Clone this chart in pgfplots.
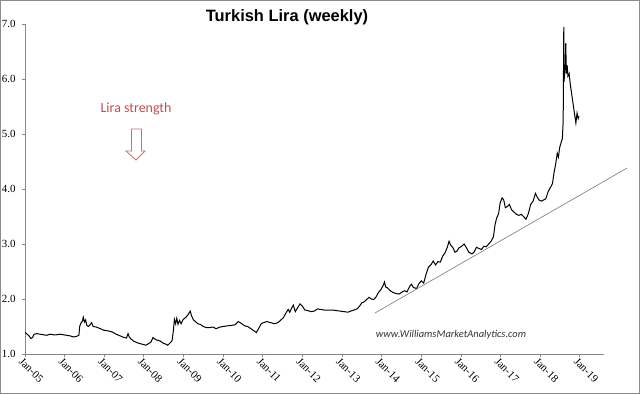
\documentclass[border=0pt]{standalone}
\usepackage{fontspec}
\setmainfont{Liberation Serif}
\newfontfamily\titlefont{Liberation Sans}
\newfontfamily\calfont{Carlito}
\usepackage{pgfplots}
\pgfplotsset{compat=1.18}
\definecolor{liratext}{RGB}{192,80,77}
\definecolor{liraarrow}{RGB}{210,110,110}
\definecolor{axgray}{RGB}{134,134,134}
\definecolor{framegray}{RGB}{140,140,140}
\begin{document}
\begin{tikzpicture}
\useasboundingbox (-25bp,-40bp) rectangle (615bp,354bp);
\begin{axis}[
  scale only axis,
  width=579bp, height=330bp,
  xmin=2005, xmax=2019.61,
  ymin=1, ymax=7,
  clip=false,
  axis lines=left,
  axis line style={-, draw=axgray, line width=0.8bp},
  tick style={draw=axgray, line width=0.8bp},
  tick align=outside,
  major tick length=3bp,
  xtick={2005,2006,2007,2008,2009,2010,2011,2012,2013,2014,2015,2016,2017,2018,2019},
  xticklabels={Jan-05,Jan-06,Jan-07,Jan-08,Jan-09,Jan-10,Jan-11,Jan-12,Jan-13,Jan-14,Jan-15,Jan-16,Jan-17,Jan-18,Jan-19},
  ytick={1,2,3,4,5,6,7},
  yticklabel style={/pgf/number format/fixed, /pgf/number format/fixed zerofill, /pgf/number format/precision=1, font=\fontsize{11}{13}\selectfont, xshift=-3bp},
  /pgf/number format/assume math mode=true,
  xticklabel style={rotate=-45, anchor=north west, inner sep=1pt, font=\fontsize{11}{13}\selectfont, xshift=-2bp},
]
\addplot[black, line width=1bp] coordinates {
(2005.00,1.39)(2005.04,1.37)(2005.10,1.33)(2005.15,1.28)(2005.19,1.30)(2005.23,1.36)(2005.30,1.37)(2005.38,1.36)(2005.46,1.35)(2005.55,1.34)(2005.63,1.36)(2005.72,1.35)(2005.80,1.35)(2005.88,1.36)(2005.97,1.35)
(2006.05,1.34)(2006.14,1.33)(2006.22,1.31)(2006.30,1.32)(2006.36,1.34)(2006.38,1.50)(2006.41,1.56)(2006.45,1.60)(2006.47,1.67)(2006.50,1.58)(2006.53,1.62)(2006.56,1.52)(2006.60,1.50)(2006.64,1.53)(2006.68,1.57)(2006.72,1.50)(2006.80,1.49)(2006.90,1.46)
(2007.00,1.43)(2007.10,1.42)(2007.20,1.40)(2007.30,1.36)(2007.40,1.33)(2007.50,1.30)(2007.56,1.29)(2007.60,1.37)(2007.63,1.31)(2007.68,1.27)(2007.75,1.23)(2007.85,1.20)(2007.95,1.18)
(2008.05,1.16)(2008.12,1.19)(2008.18,1.22)(2008.23,1.30)(2008.28,1.27)(2008.34,1.25)(2008.40,1.24)(2008.48,1.20)(2008.55,1.18)(2008.60,1.16)(2008.66,1.20)(2008.71,1.24)(2008.74,1.40)(2008.77,1.63)(2008.80,1.55)(2008.83,1.65)(2008.86,1.54)(2008.90,1.61)(2008.94,1.55)(2008.99,1.63)
(2009.05,1.66)(2009.12,1.72)(2009.17,1.78)(2009.20,1.70)(2009.25,1.62)(2009.30,1.59)(2009.36,1.55)(2009.42,1.54)(2009.50,1.50)(2009.58,1.48)(2009.66,1.48)(2009.74,1.49)(2009.82,1.46)(2009.92,1.49)
(2010.00,1.50)(2010.09,1.51)(2010.20,1.52)(2010.30,1.53)(2010.38,1.59)(2010.45,1.56)(2010.55,1.51)(2010.62,1.50)(2010.70,1.46)(2010.78,1.42)(2010.84,1.39)(2010.90,1.47)(2010.96,1.55)
(2011.02,1.57)(2011.10,1.59)(2011.20,1.57)(2011.30,1.55)(2011.38,1.57)(2011.46,1.62)(2011.52,1.66)(2011.58,1.74)(2011.64,1.81)(2011.68,1.76)(2011.72,1.82)(2011.77,1.89)(2011.82,1.77)(2011.86,1.82)(2011.94,1.91)
(2012.00,1.87)(2012.06,1.80)(2012.13,1.79)(2012.22,1.77)(2012.30,1.78)(2012.38,1.82)(2012.46,1.81)(2012.55,1.80)(2012.65,1.80)(2012.75,1.80)(2012.85,1.79)(2012.95,1.78)
(2013.05,1.77)(2013.15,1.76)(2013.22,1.78)(2013.30,1.80)(2013.38,1.82)(2013.44,1.87)(2013.50,1.93)(2013.56,1.95)(2013.62,1.99)(2013.68,2.03)(2013.74,2.00)(2013.80,1.99)(2013.86,2.04)(2013.92,2.12)(2013.98,2.17)
(2014.04,2.25)(2014.07,2.31)(2014.10,2.22)(2014.15,2.20)(2014.20,2.16)(2014.28,2.12)(2014.36,2.10)(2014.44,2.09)(2014.52,2.13)(2014.58,2.15)(2014.64,2.13)(2014.70,2.22)(2014.75,2.27)(2014.80,2.21)(2014.88,2.19)(2014.94,2.28)
(2015.00,2.33)(2015.06,2.29)(2015.12,2.45)(2015.18,2.58)(2015.24,2.62)(2015.30,2.69)(2015.36,2.62)(2015.42,2.68)(2015.48,2.67)(2015.54,2.78)(2015.60,2.84)(2015.66,2.95)(2015.70,3.05)(2015.74,2.98)(2015.80,2.93)(2015.85,2.85)(2015.90,2.87)(2015.95,2.93)
(2016.02,2.96)(2016.08,3.00)(2016.14,2.93)(2016.20,2.85)(2016.28,2.82)(2016.33,2.85)(2016.39,2.94)(2016.45,2.92)(2016.52,2.90)(2016.58,2.96)(2016.64,2.95)(2016.70,3.00)(2016.76,3.05)(2016.82,3.13)(2016.86,3.35)(2016.90,3.47)(2016.95,3.55)(2016.99,3.75)
(2017.04,3.84)(2017.08,3.80)(2017.12,3.66)(2017.17,3.68)(2017.22,3.72)(2017.28,3.62)(2017.34,3.58)(2017.40,3.54)(2017.46,3.52)(2017.52,3.54)(2017.58,3.50)(2017.64,3.45)(2017.70,3.55)(2017.76,3.72)(2017.82,3.78)(2017.88,3.92)(2017.92,3.86)(2017.97,3.80)
(2018.03,3.78)(2018.08,3.80)(2018.14,3.82)(2018.20,3.95)(2018.26,4.03)(2018.31,4.10)(2018.35,4.30)(2018.39,4.45)(2018.43,4.65)(2018.46,4.58)(2018.49,4.75)(2018.53,4.85)(2018.56,4.92)(2018.58,5.25)
(2018.595,6.95)(2018.600,5.95)(2018.63,6.20)(2018.645,6.65)(2018.66,6.10)(2018.68,6.25)(2018.70,6.05)(2018.73,6.10)(2018.76,5.90)(2018.80,5.70)(2018.84,5.50)(2018.88,5.30)(2018.90,5.20)(2018.93,5.38)(2018.96,5.28)(2018.98,5.32)
};
\addplot[axgray, line width=0.7bp] coordinates {(2013.83,1.745)(2020.19,4.38)};
\end{axis}
\node[font=\titlefont\bfseries\fontsize{16.5}{19}\selectfont] at (262bp,337bp) {Turkish Lira (weekly)};
\node[font=\calfont\fontsize{14}{16}\selectfont, text=liratext] at (111bp,245bp) {Lira strength};
\draw[liraarrow, line width=0.8bp, line join=miter]
  (106.5bp,225bp) -- (116.5bp,225bp) -- (116.5bp,203bp) -- (120bp,203bp) -- (111bp,194bp) -- (101bp,203bp) -- (106.5bp,203bp) -- cycle;
\node[font=\calfont\itshape\fontsize{10.5}{12}\selectfont, text={rgb,255:red,50;green,50;blue,50}] at (426bp,19bp) {www.WilliamsMarketAnalytics.com};
\draw[framegray, line width=1.5bp] (-24.25bp,-39.25bp) rectangle (614.25bp,353.25bp);
\end{tikzpicture}
\end{document}
